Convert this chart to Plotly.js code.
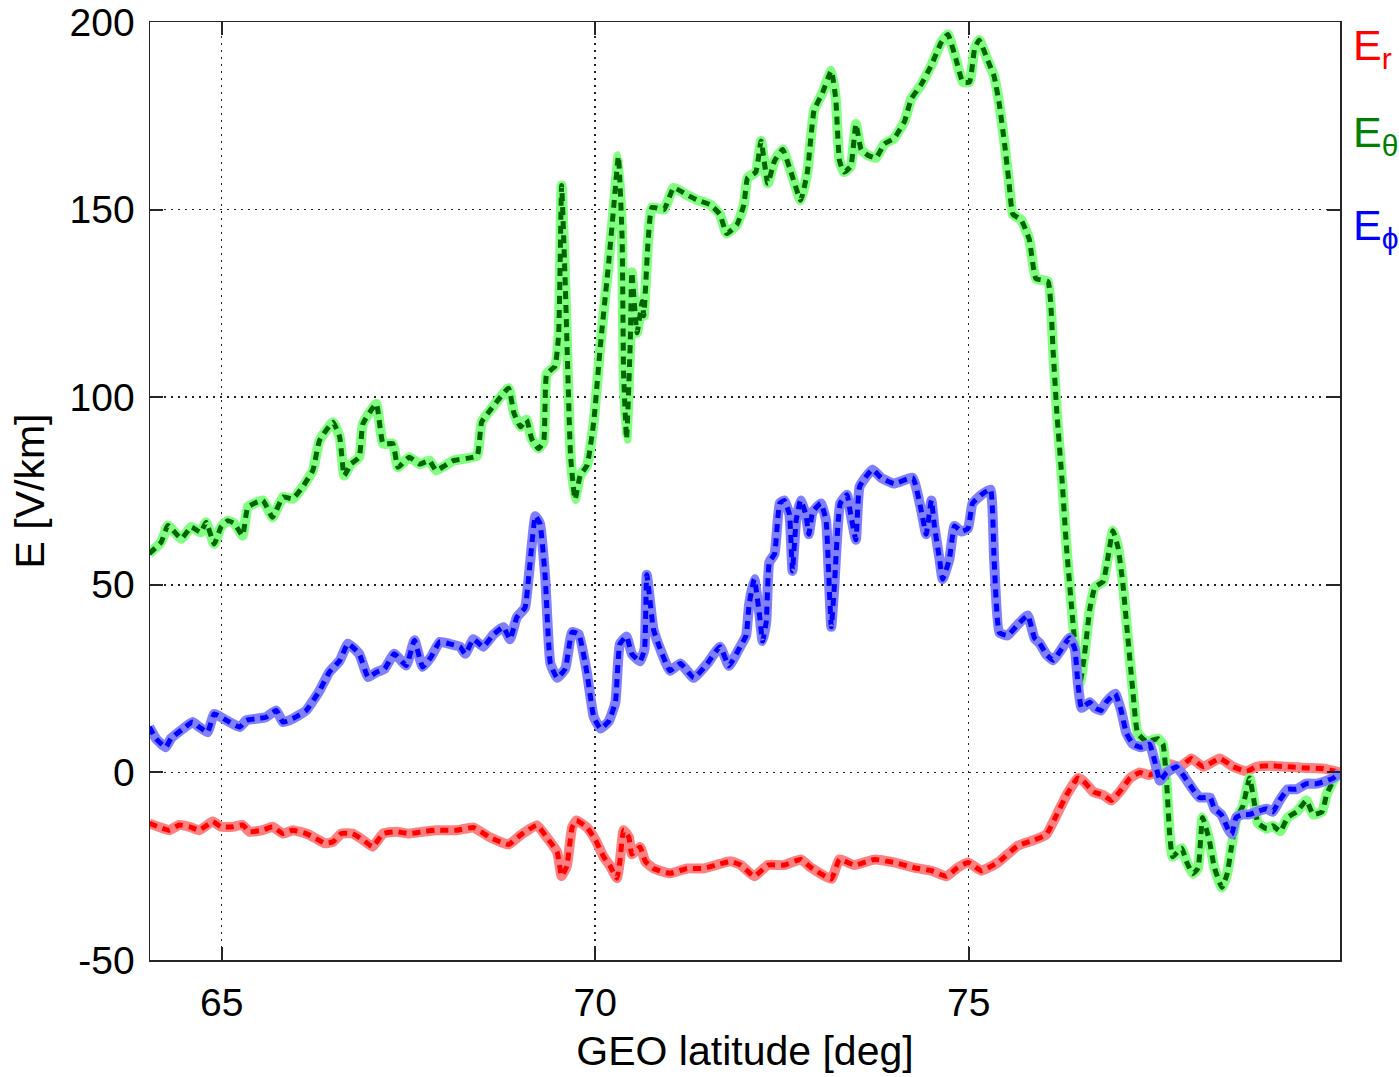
<!DOCTYPE html>
<html>
<head>
<meta charset="utf-8">
<script src="https://cdn.plot.ly/plotly-3.0.1.min.js"></script>
<style>html,body{margin:0;padding:0;background:#fff;}#chart{width:1399px;height:1077px;}</style>
</head>
<body>
<div id="chart"></div>
<script>
// GEO latitude [deg] and E components [V/km]
const latTheta = [64.03,64.19,64.28,64.46,64.59,64.72,64.79,64.90,64.99,65.08,65.17,65.28,65.35,65.55,65.68,65.82,65.95,66.08,66.22,66.31,66.49,66.58,66.64,66.73,66.84,66.89,67.07,67.16,67.29,67.36,67.51,67.65,67.78,67.87,
 68.10,68.28,68.42,68.48,68.62,68.84,68.91,69.00,69.08,69.15,69.24,69.31,69.35,69.46,69.51,69.55,69.60,69.67,69.73,69.80,69.89,69.98,70.07,70.18,70.25,70.31,70.36,70.38,70.42,70.47,70.49,70.56,70.63,70.65,70.71,70.76,70.92,71.05,71.23,71.36,71.54,71.67,71.76,71.90,71.99,
 72.04,72.15,72.22,72.31,72.40,72.51,72.62,72.75,72.84,72.93,73.04,73.16,73.22,73.27,73.33,73.42,73.49,73.56,73.65,73.76,73.87,74.00,74.14,74.23,74.36,74.50,74.63,74.72,74.83,74.92,75.01,75.08,75.14,75.25,75.34,75.41,75.48,75.54,75.59,75.70,75.81,75.90,
 76.06,76.13,76.18,76.25,76.31,76.38,76.42,76.49,76.55,76.62,76.69,76.80,76.86,76.93,77.00,77.06,77.13,77.20,77.26,77.38,77.53,77.60,77.65,77.69,77.73,77.85,77.92,78.00,78.07,78.13,78.22,78.29,78.39,78.46,78.52,78.59,78.67,78.76,78.83,78.87,78.99,79.07,79.17,79.27,79.39,79.52,79.61,79.73,79.79,79.88,79.97];
const eTheta = [58.3,61.4,65.8,62.3,65.4,64.0,66.7,60.9,65.4,67.1,66.3,63.1,70.7,72.5,68.0,73.4,72.9,76.0,80.5,88.5,93.3,89.3,79.1,82.2,84.0,92.9,98.2,87.6,87.6,81.3,84.0,82.2,83.1,80.5,
 83.1,83.7,84.4,93.4,97.2,102.4,95.9,92.1,94.0,88.9,86.3,88.2,106.2,108.2,116.5,156.4,129.4,84.4,72.8,79.2,81.8,93.4,114.0,135.8,151.3,164.2,142.3,106.2,88.9,115.3,133.3,117.2,125.5,121.7,142.3,150.6,150.0,155.8,153.9,152.6,151.3,148.7,143.6,146.1,151.3,
 158.5,160.0,168.3,157.0,163.0,166.0,160.0,152.5,160.0,176.5,181.0,187.0,179.5,163.0,160.0,161.5,172.8,166.0,164.5,163.8,167.5,169.0,173.5,179.5,183.2,188.5,194.5,196.7,190.0,184.0,184.0,193.0,195.2,190.0,185.5,178.0,167.5,157.0,148.8,147.3,142.1,131.6,
 130.8,112.1,95.7,77.7,59.7,43.4,34.4,23.9,31.4,43.4,49.4,50.9,56.9,64.4,59.8,50.9,35.9,21.0,10.5,8.2,9.0,7.5,-3.0,-16.5,-22.5,-20.2,-24.0,-27.0,-25.5,-12.0,-18.0,-25.5,-30.7,-27.0,-19.5,-12.0,-9.0,-1.5,-9.0,-13.5,-15.0,-14.2,-15.7,-12.0,-10.5,-7.5,-11.2,-10.5,-6.0,-2.2,0];

const latPhi = [64.03,64.12,64.25,64.32,64.48,64.61,64.70,64.81,64.90,65.06,65.24,65.33,65.46,65.59,65.73,65.82,65.95,66.13,66.31,66.44,66.58,66.69,66.84,66.96,67.07,67.18,67.31,67.47,67.58,67.69,67.80,
 67.92,68.06,68.19,68.26,68.37,68.50,68.64,68.77,68.86,68.95,69.06,69.11,69.20,69.26,69.33,69.40,69.49,69.60,69.69,69.78,69.89,69.98,70.07,70.18,70.27,70.33,70.42,70.49,70.60,70.66,70.69,70.78,70.87,71.00,71.14,71.32,71.50,71.67,71.79,71.94,
 72.02,72.06,72.13,72.20,72.24,72.29,72.33,72.40,72.47,72.53,72.60,72.64,72.69,72.75,72.82,72.86,72.91,73.02,73.09,73.13,73.16,73.20,73.28,73.37,73.42,73.49,73.54,73.71,73.83,74.00,74.25,74.36,74.43,74.50,74.54,74.61,74.65,74.74,74.81,74.90,74.99,75.05,75.17,75.29,75.34,75.41,75.52,75.66,75.79,75.88,
 75.95,76.04,76.13,76.22,76.35,76.42,76.46,76.51,76.62,76.69,76.77,76.84,76.96,77.04,77.11,77.20,77.31,77.42,77.49,77.56,77.65,77.78,77.87,78.00,78.09,78.23,78.29,78.38,78.47,78.52,78.58,78.67,78.76,78.85,78.99,79.07,79.16,79.27,79.39,79.52,79.66,79.79,79.88,79.97];
const ePhi = [12.1,9.0,6.7,9.0,11.6,13.4,12.1,10.7,15.6,13.9,12.1,13.9,14.3,14.7,16.5,13.4,14.3,16.5,21.8,26.7,29.8,34.3,31.6,25.4,26.7,27.6,31.6,28.5,35.2,28.1,30.7,
 34.8,34.2,33.5,31.6,35.5,33.5,36.8,38.7,35.5,41.3,43.9,52.2,68.3,66.3,52.2,29.0,25.2,27.7,37.4,36.8,26.4,14.8,11.7,13.6,18.7,34.2,36.2,31.6,29.6,32.9,52.7,38.1,32.9,27.1,29.0,25.2,29.0,33.5,28.4,33.5,
 36.5,44.8,51.5,41.8,35.0,40.3,56.0,58.2,71.7,72.5,68.7,53.7,67.2,72.5,68.7,63.5,69.4,71.7,67.2,50.7,38.8,49.3,71.7,74.0,68.7,62.0,76.2,80.7,78.5,77.0,78.5,70.2,63.5,72.5,65.7,56.7,51.5,56.7,65.7,64.2,65.0,71.7,74.0,75.4,56.7,37.3,36.5,39.5,41.8,35.8,
 34.4,31.4,29.9,32.2,35.9,32.9,24.0,17.2,18.7,17.2,16.5,18.7,21.0,16.5,10.5,7.5,6.7,7.5,3.0,-2.2,0,1.5,-0.7,-4.5,-6.7,-6.7,-9.7,-11.2,-15.0,-16.5,-12.0,-11.2,-11.2,-10.5,-9.7,-10.5,-7.5,-4.5,-4.5,-3.0,-3.0,-2.2,-1.5,0];

const latR = [64.03,64.21,64.30,64.43,64.57,64.70,64.88,64.99,65.15,65.28,65.37,65.55,65.68,65.82,65.95,66.13,66.26,66.38,66.49,66.60,66.75,66.89,67.02,67.16,67.33,67.51,67.69,67.87,
 68.15,68.37,68.59,68.84,69.00,69.22,69.35,69.49,69.55,69.62,69.69,69.75,69.89,70.00,70.11,70.20,70.29,70.33,70.38,70.45,70.49,70.60,70.67,70.78,71.00,71.23,71.45,71.67,71.81,
 71.95,72.13,72.31,72.53,72.75,72.89,73.16,73.27,73.47,73.74,74.00,74.27,74.50,74.70,74.85,74.99,75.17,75.39,75.66,75.88,
 76.04,76.18,76.31,76.46,76.53,76.67,76.80,76.91,77.02,77.16,77.29,77.42,77.56,77.69,77.83,77.98,78.14,78.36,78.54,78.72,78.85,79.03,79.25,79.52,79.75,79.97];
const eR = [-13.6,-14.9,-15.4,-14.0,-14.5,-15.4,-13.1,-14.5,-14.5,-14.0,-15.8,-15.4,-14.5,-16.3,-15.4,-16.3,-17.6,-18.9,-18.5,-16.3,-16.3,-18.0,-19.8,-16.3,-15.8,-16.3,-15.8,-15.4,
 -15.4,-14.7,-17.3,-19.2,-16.7,-14.1,-17.3,-21.2,-27.6,-25.0,-14.7,-12.8,-14.7,-17.9,-22.4,-25.0,-28.2,-23.7,-15.4,-17.3,-21.8,-19.9,-23.7,-25.6,-26.9,-25.6,-25.6,-24.4,-23.7,
 -24.7,-27.7,-24.7,-24.7,-23.2,-25.4,-28.4,-23.2,-24.7,-23.2,-24.0,-25.4,-26.2,-27.7,-25.4,-24.0,-26.2,-24.0,-19.5,-18.0,
 -16.5,-11.2,-6.0,-1.5,-2.2,-5.2,-6.0,-7.5,-5.2,-1.5,0,-0.7,0.7,2.2,1.5,3.7,1.5,3.7,1.5,0.3,1.5,1.8,1.5,1.2,1.0,0];

const xTicks = [65, 70, 75];
const yTicks = [-50, 0, 50, 100, 150, 200];
const seriesNames = ['E<sub>r</sub>', 'E<sub>θ</sub>', 'E<sub>ϕ</sub>'];

function pair(x, y, light, dark) {
  return [
    {x: x, y: y, type: 'scatter', mode: 'lines', line: {color: light, width: 10, shape: 'spline', smoothing: 0.4}, hoverinfo: 'skip'},
    {x: x, y: y, type: 'scatter', mode: 'lines', line: {color: dark, width: 5, dash: '8px,6px', shape: 'spline', smoothing: 0.4}}
  ];
}

const data = [].concat(
  pair(latR, eR, '#ff8080', '#ff0000'),
  pair(latTheta, eTheta, '#80ff80', '#006400'),
  pair(latPhi, ePhi, '#8080ff', '#0000ff')
);

const axisCommon = {
  showline: true, linecolor: '#262626', linewidth: 1.5, mirror: 'ticks',
  ticks: 'inside', ticklen: 13, tickwidth: 2, tickcolor: '#262626',
  showgrid: true, gridcolor: '#222222', griddash: '2px,5px', gridwidth: 1.5,
  zeroline: false, automargin: false,
  tickfont: {family: 'Liberation Sans, Arial, sans-serif', size: 39, color: '#000'}
};

const layout = {
  width: 1399, height: 1077,
  margin: {l: 150, r: 59, t: 22, b: 117},
  paper_bgcolor: '#ffffff', plot_bgcolor: '#ffffff',
  showlegend: false,
  font: {family: 'Liberation Sans, Arial, sans-serif', size: 39, color: '#000'},
  xaxis: Object.assign({}, axisCommon, {
    range: [64.04, 79.97], tickvals: xTicks, ticktext: xTicks.map(String),
    ticklabelstandoff: 8,
    title: {text: 'GEO latitude [deg]', standoff: 13, font: {size: 41, color: '#000'}}
  }),
  yaxis: Object.assign({}, axisCommon, {
    range: [-50, 200], tickvals: yTicks, ticktext: yTicks.map(String),
    ticklabelstandoff: 6,
    title: {text: 'E [V/km]', standoff: 12, font: {size: 41, color: '#000'}}
  }),
  annotations: [
    {text: seriesNames[0], xref: 'paper', yref: 'paper', x: 1.009, y: 0.972, xanchor: 'left', yanchor: 'middle', showarrow: false, font: {size: 43, color: '#ff0000'}},
    {text: seriesNames[1], xref: 'paper', yref: 'paper', x: 1.009, y: 0.879, xanchor: 'left', yanchor: 'middle', showarrow: false, font: {size: 43, color: '#008000'}},
    {text: seriesNames[2], xref: 'paper', yref: 'paper', x: 1.009, y: 0.780, xanchor: 'left', yanchor: 'middle', showarrow: false, font: {size: 43, color: '#0000ff'}}
  ]
};

Plotly.newPlot('chart', data, layout, {displayModeBar: false, staticPlot: true});
</script>
</body>
</html>
